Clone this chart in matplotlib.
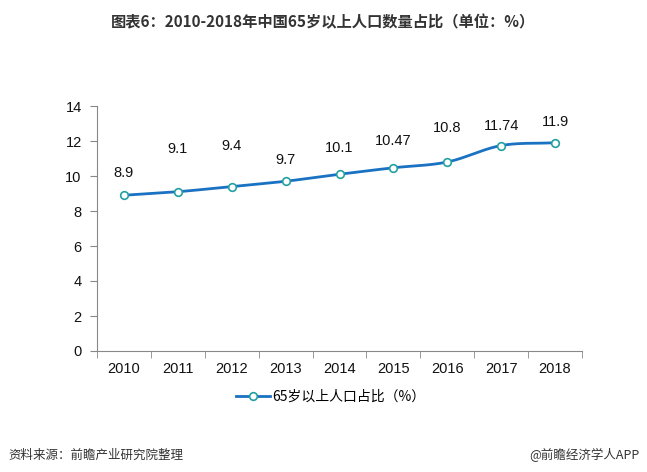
import numpy as np
import matplotlib
matplotlib.use("Agg")
import matplotlib.pyplot as plt

plt.rcParams['font.family'] = ['Noto Sans CJK SC', 'DejaVu Sans']

years = ["2010", "2011", "2012", "2013", "2014", "2015", "2016", "2017", "2018"]
share = [8.9, 9.1, 9.4, 9.7, 10.1, 10.47, 10.8, 11.74, 11.9]
labels = ["8.9", "9.1", "9.4", "9.7", "10.1", "10.47", "10.8", "11.74", "11.9"]
label_y = [10.17, 11.54, 11.71, 10.91, 11.6, 12.0, 12.74, 12.86, 13.09]

LINE = "#1a72c2"
EDGE = "#23a0a0"
NUMFONT = ["Liberation Sans", "DejaVu Sans"]


def smooth(x, y, n=20):
    # catmull-rom through the points
    x = np.asarray(x, float)
    y = np.asarray(y, float)
    px = np.concatenate([[2 * x[0] - x[1]], x, [2 * x[-1] - x[-2]]])
    py = np.concatenate([[2 * y[0] - y[1]], y, [2 * y[-1] - y[-2]]])
    xs, ys = [], []
    t = np.linspace(0, 1, n)
    for i in range(1, len(px) - 2):
        for p, out in ((px, xs), (py, ys)):
            p0, p1, p2, p3 = p[i - 1], p[i], p[i + 1], p[i + 2]
            out.extend(0.5 * (2 * p1 + (-p0 + p2) * t + (2 * p0 - 5 * p1 + 4 * p2 - p3) * t ** 2
                              + (-p0 + 3 * p1 - 3 * p2 + p3) * t ** 3))
    return np.array(xs), np.array(ys)


fig = plt.figure(figsize=(6.47, 4.72), dpi=100)
ax = fig.add_axes([97 / 647, 1 - 351 / 472, 485 / 647, 245 / 472])

x = np.arange(len(years))
sx, sy = smooth(x, share)
ax.plot(sx, sy, color=LINE, lw=2, zorder=2)
ax.plot(x, share, ls="", marker="o", ms=5.5, mfc="white", mec=EDGE, mew=1.2, zorder=3)
ax.plot([], [], color=LINE, lw=2, marker="o", ms=5.5, mfc="white", mec=EDGE, mew=1.2,
        label="65岁以上人口占比（%）")

for xi, lab, ly in zip(x, labels, label_y):
    ax.text(xi, ly, lab, ha="center", va="center", fontsize=10.5, color="#111111",
            family=NUMFONT)

ax.set_xlim(-0.5, len(years) - 0.5)
ax.set_ylim(0, 14)
ax.set_yticks(range(0, 15, 2))
ax.set_xticks(x)
ax.set_xticklabels(years)
ax.set_xticks(np.arange(-0.5, len(years), 1), minor=True)
ax.tick_params(axis="x", which="major", length=0, pad=8, labelsize=10.5)
ax.tick_params(axis="x", which="minor", length=5, color="#888888")
ax.tick_params(axis="y", length=5, color="#888888", labelsize=10.5, pad=6)
for lbl in ax.get_xticklabels() + ax.get_yticklabels():
    lbl.set_family(NUMFONT)
    lbl.set_color("#111111")
for s in ("top", "right"):
    ax.spines[s].set_visible(False)
for s in ("left", "bottom"):
    ax.spines[s].set_color("#888888")

fig.legend(loc="center", bbox_to_anchor=(331 / 647, 1 - 397 / 472), frameon=False,
           fontsize=10, handlelength=2.4, handletextpad=0.2)

fig.text(0.5, 1 - 22 / 472, "图表6：2010-2018年中国65岁以上人口数量占比（单位：%）",
         ha="center", va="center", fontsize=11, fontweight="bold", color="#333333")
fig.text(8 / 647, 1 - 455 / 472, "资料来源：前瞻产业研究院整理", ha="left", va="center",
         fontsize=9, style="italic", color="#333333")
fig.text(639 / 647, 1 - 455 / 472, "@前瞻经济学人APP", ha="right", va="center",
         fontsize=9, color="#333333")

fig.savefig("out.png", dpi=100)
